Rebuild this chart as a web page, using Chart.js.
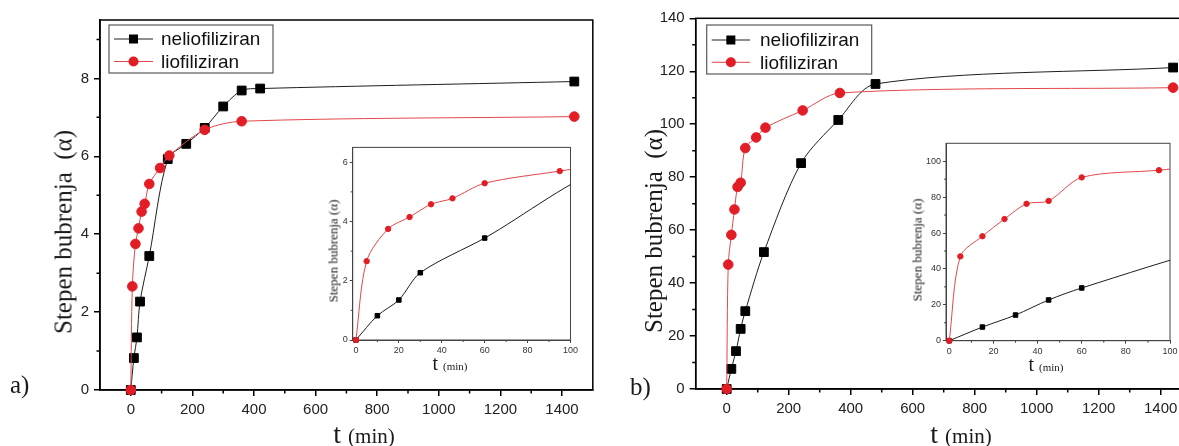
<!DOCTYPE html>
<html>
<head>
<meta charset="utf-8">
<script src="https://cdn.jsdelivr.net/npm/chart.js@4.4.1/dist/chart.umd.min.js"></script>
<style>
  html, body { margin: 0; padding: 0; background: #fff; }
  body { width: 1179px; height: 446px; overflow: hidden; position: relative; }
  canvas { position: absolute; }
  .lbl { position: absolute; font-family: 'Liberation Serif', 'Times New Roman', serif; color: #1a1a1a; white-space: nowrap; line-height: 1; }
  .rot { transform: translate(-50%, -50%) rotate(-90deg); }
  .ctr { transform: translateX(-50%); }
</style>
</head>
<body>
<canvas id="mainA" width="600" height="446" style="left:0;top:0"></canvas>
<canvas id="insetA" width="280" height="240" style="left:300px;top:140px"></canvas>
<canvas id="mainB" width="600" height="446" style="left:600px;top:0"></canvas>
<canvas id="insetB" width="290" height="250" style="left:890px;top:130px"></canvas>

<div class="lbl" style="left:10px;top:372px;font-size:25px">a)</div>
<div class="lbl" style="left:630px;top:374px;font-size:25px">b)</div>

<div class="lbl rot" style="left:63px;top:232px;font-size:25px">Stepen bubrenja&nbsp;&nbsp;(α)</div>
<div class="lbl rot" style="left:653px;top:231px;font-size:25px">Stepen bubrenja&nbsp;&nbsp;(α)</div>
<div class="lbl ctr" style="left:364px;top:420px;font-size:28px">t <span style="font-size:21px">(min)</span></div>
<div class="lbl ctr" style="left:961px;top:420px;font-size:28px">t <span style="font-size:21px">(min)</span></div>

<div class="lbl rot" style="left:333px;top:251px;font-size:13px">Stepen bubrenja (α)</div>
<div class="lbl rot" style="left:917px;top:250px;font-size:13px">Stepen bubrenja (α)</div>
<div class="lbl ctr" style="left:450px;top:353px;font-size:20px">t <span style="font-size:11px">(min)</span></div>
<div class="lbl ctr" style="left:1046px;top:354px;font-size:20px">t <span style="font-size:11px">(min)</span></div>

<script>
// Swelling degree (alpha) versus time, t in minutes
const seriesNames = ['neliofiliziran', 'liofiliziran'];

// a) non-lyophilized
const tNelioA = [0, 10, 20, 30, 60, 120, 180, 240, 300, 360, 420, 1440];
const aNelioA = [0, 0.82, 1.35, 2.27, 3.44, 5.93, 6.32, 6.73, 7.28, 7.69, 7.74, 7.92];
// a) lyophilized
const tLioA = [0, 5, 15, 25, 35, 45, 60, 95, 125, 240, 360, 1440];
const aLioA = [0, 2.66, 3.75, 4.15, 4.58, 4.78, 5.29, 5.70, 6.02, 6.68, 6.90, 7.02];

// b) non-lyophilized
const tNelioB = [0, 15, 30, 45, 60, 120, 240, 360, 480, 1440];
const aNelioB = [0, 7.6, 14.3, 22.7, 29.4, 51.7, 85.3, 101.6, 115.2, 121.4];
// b) lyophilized
const tLioB = [0, 5, 15, 25, 35, 45, 60, 95, 125, 245, 365, 1440];
const aLioB = [0, 47.0, 58.2, 67.8, 76.3, 77.9, 91.0, 95.0, 98.7, 105.2, 111.8, 113.8];

// tick values
const xMainTicks = [0, 200, 400, 600, 800, 1000, 1200, 1400];
const xMainMinor = [100, 300, 500, 700, 900, 1100, 1300];
const yTicksA = [0, 2, 4, 6, 8];
const yMinorA = [1, 3, 5, 7, 9];
const yTicksB = [0, 20, 40, 60, 80, 100, 120, 140];
const yMinorB = [10, 30, 50, 70, 90, 110, 130];
const xInsetTicks = [0, 20, 40, 60, 80, 100];
const xInsetMinor = [10, 30, 50, 70, 90];
const yInsetTicksA = [0, 2, 4, 6];
const yInsetMinorA = [1, 3, 5];
const yInsetTicksB = [0, 20, 40, 60, 80, 100];
const yInsetMinorB = [10, 30, 50, 70, 90];

const BLACK_LINE = '#1e1e1e';
const RED_LINE = '#e2474a';
const BLACK_FILL = '#000000';
const RED_FILL = '#e31d25';
const SANS = "'Liberation Sans', Arial, sans-serif";

function points(ts, vs) { return ts.map((t, i) => ({ x: t, y: vs[i] })); }

function series(label, ts, vs, kind, small, clip) {
  const isRect = kind === 'rect';
  return {
    label,
    data: points(ts, vs),
    showLine: true,
    tension: 0.3,
    borderColor: isRect ? BLACK_LINE : RED_LINE,
    borderWidth: 1,
    pointStyle: isRect ? 'rect' : 'circle',
    pointRadius: isRect ? (small ? 3.2 : 6.2) : (small ? 2.7 : 4.8),
    pointBackgroundColor: isRect ? BLACK_FILL : RED_FILL,
    pointBorderColor: isRect ? BLACK_FILL : RED_FILL,
    pointBorderWidth: 1,
    order: isRect ? 1 : 0,
    clip
  };
}

function scale(min, max, major, fitSize, isX, st) {
  return {
    type: 'linear', min, max,
    afterBuildTicks: s => { s.ticks = major.map(v => ({ value: v })); },
    afterFit: s => { if (isX) s.height = fitSize; else s.width = fitSize; },
    border: { display: true, color: st.axis, width: st.axisW },
    grid: { drawOnChartArea: false, drawTicks: true, tickLength: st.tickLen, tickColor: st.axis, tickWidth: st.axisW, color: st.axis, lineWidth: st.axisW },
    ticks: { autoSkip: false, maxRotation: 0, minRotation: 0, padding: st.pad, color: st.label,
             font: { family: SANS, size: st.font }, callback: v => String(v) }
  };
}

// frame, minor ticks and the in-plot legend
const framePlugin = {
  id: 'frame',
  beforeDatasetsDraw(chart, args, o) {
    const { ctx, chartArea: a, scales: { x, y } } = chart;
    ctx.save();
    ctx.strokeStyle = o.color;
    ctx.lineWidth = o.width;
    ctx.strokeRect(a.left, a.top, a.right - a.left, a.bottom - a.top);
    ctx.lineWidth = o.minorW;
    ctx.beginPath();
    (o.xMinor || []).forEach(v => {
      const px = x.getPixelForValue(v);
      ctx.moveTo(px, a.bottom); ctx.lineTo(px, a.bottom + o.minorLen);
    });
    (o.yMinor || []).forEach(v => {
      const py = y.getPixelForValue(v);
      ctx.moveTo(a.left, py); ctx.lineTo(a.left - o.minorLen, py);
    });
    ctx.stroke();
    ctx.restore();
  },
  afterDraw(chart, args, o) {
    const L = o.legend;
    if (!L) return;
    const ctx = chart.ctx;
    ctx.save();
    ctx.fillStyle = '#fff';
    ctx.fillRect(L.x, L.y, L.w, L.h);
    ctx.strokeStyle = '#5a5a5a';
    ctx.lineWidth = 1.2;
    ctx.strokeRect(L.x, L.y, L.w, L.h);
    const ds = chart.data.datasets;
    ds.forEach((d, i) => {
      const cy = L.rowY[i];
      ctx.strokeStyle = d.borderColor;
      ctx.lineWidth = 1;
      ctx.beginPath(); ctx.moveTo(L.x0, cy); ctx.lineTo(L.x1, cy); ctx.stroke();
      const mx = (L.x0 + L.x1) / 2;
      ctx.fillStyle = d.pointBackgroundColor;
      if (d.pointStyle === 'rect') {
        ctx.fillRect(mx - 4.5, cy - 4.5, 9, 9);
      } else {
        ctx.beginPath(); ctx.arc(mx, cy, 5, 0, Math.PI * 2); ctx.fill();
      }
      ctx.fillStyle = '#111';
      ctx.font = '19px ' + SANS;
      ctx.textAlign = 'left';
      ctx.textBaseline = 'middle';
      ctx.fillText(d.label, L.textX, cy + 1);
    });
    ctx.restore();
  }
};

const mainStyle = { axis: '#000', axisW: 1.5, tickLen: 6, pad: 5, label: '#222', font: 15 };
const insetStyle = { axis: '#444', axisW: 1, tickLen: 3, pad: 2, label: '#333', font: 9 };

function makeChart(id, datasets, cfg) {
  return new Chart(document.getElementById(id), {
    type: 'scatter',
    data: { datasets },
    options: {
      responsive: false,
      devicePixelRatio: 1,
      animation: false,
      events: [],
      layout: { padding: cfg.padding },
      scales: { x: cfg.x, y: cfg.y },
      plugins: {
        legend: { display: false },
        tooltip: { enabled: false },
        frame: cfg.frame
      }
    },
    plugins: [framePlugin]
  });
}

const insetClip = { left: 6, top: 6, right: 0, bottom: 6 };

// a) main
makeChart('mainA', [
  series(seriesNames[0], tNelioA, aNelioA, 'rect', false, false),
  series(seriesNames[1], tLioA, aLioA, 'circle', false, false)
], {
  padding: { left: 0, top: 20, right: 5, bottom: 0 },
  x: scale(-100, 1500, xMainTicks, 56, true, mainStyle),
  y: scale(0, 9.5, yTicksA, 100, false, mainStyle),
  frame: { color: '#000', width: 1.5, minorW: 1.5, minorLen: 3.5, xMinor: xMainMinor, yMinor: yMinorA,
           legend: { x: 109, y: 25, w: 164, h: 48, rowY: [39, 61.5], x0: 114, x1: 153, textX: 161 } }
});

// a) inset, first 100 min
makeChart('insetA', [
  series(seriesNames[0], tNelioA, aNelioA, 'rect', true, insetClip),
  series(seriesNames[1], tLioA, aLioA, 'circle', true, insetClip)
], {
  padding: { left: 0, top: 6.7, right: 9.3, bottom: 0 },
  x: scale(-1.5, 100, xInsetTicks, 40, true, insetStyle),
  y: scale(0, 6.5, yInsetTicksA, 52.7, false, insetStyle),
  frame: { color: '#444', width: 1, minorW: 1, minorLen: 2, xMinor: xInsetMinor, yMinor: yInsetMinorA }
});

// b) main
makeChart('mainB', [
  series(seriesNames[0], tNelioB, aNelioB, 'rect', false, false),
  series(seriesNames[1], tLioB, aLioB, 'circle', false, false)
], {
  padding: { left: 0, top: 18.3, right: 8.3, bottom: 0 },
  x: scale(-100, 1500, xMainTicks, 57, true, mainStyle),
  y: scale(0, 140, yTicksB, 95.7, false, mainStyle),
  frame: { color: '#000', width: 1.5, minorW: 1.5, minorLen: 3.5, xMinor: xMainMinor, yMinor: yMinorB,
           legend: { x: 106.7, y: 25, w: 165, h: 49, rowY: [40, 62.3], x0: 111.7, x1: 150, textX: 160 } }
});

// b) inset, first 100 min
makeChart('insetB', [
  series(seriesNames[0], tNelioB, aNelioB, 'rect', true, insetClip),
  series(seriesNames[1], tLioB, aLioB, 'circle', true, insetClip)
], {
  padding: { left: 0, top: 13.3, right: 10, bottom: 0 },
  x: scale(-1.5, 100, xInsetTicks, 39.3, true, insetStyle),
  y: scale(0, 110, yInsetTicksB, 56, false, insetStyle),
  frame: { color: '#444', width: 1, minorW: 1, minorLen: 2, xMinor: xInsetMinor, yMinor: yInsetMinorB }
});
</script>
</body>
</html>
